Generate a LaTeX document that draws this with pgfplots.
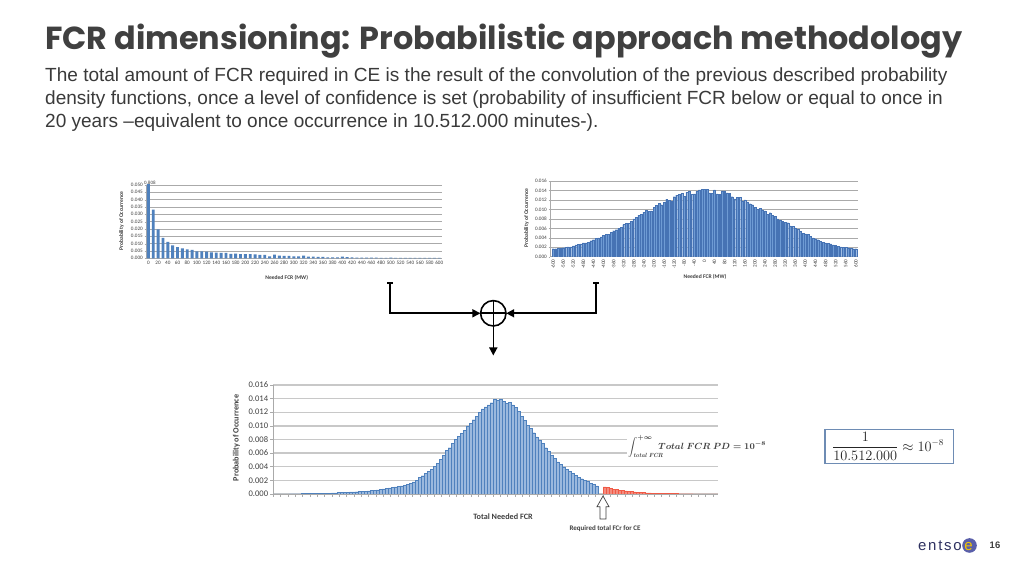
\documentclass[border=0pt]{standalone}
\usepackage[no-math]{fontspec}
\setmainfont{Liberation Sans}
\newfontfamily\poppins{Poppins}
\newfontfamily\carlito{Carlito}
\usepackage{amsmath,amssymb}
\usepackage{pgfplots}
\usepackage{pgfplotstable}
\pgfplotsset{compat=1.18}
\usetikzlibrary{arrows.meta}
\definecolor{titlegray}{RGB}{64,64,64}
\definecolor{bodygray}{RGB}{58,58,58}
\definecolor{chtext}{RGB}{64,64,64}
\definecolor{gridgray}{RGB}{170,170,170}
\definecolor{gridlight}{RGB}{200,200,200}
\definecolor{barblue}{RGB}{79,129,189}
\definecolor{barlight}{RGB}{110,155,212}
\definecolor{barpale}{RGB}{155,185,222}
\definecolor{bardark}{RGB}{70,115,180}
\definecolor{barred}{RGB}{240,90,70}
\definecolor{boxblue}{RGB}{110,140,180}
\definecolor{navy}{RGB}{46,49,96}
\definecolor{logoblue}{RGB}{90,95,170}
\definecolor{logoyellow}{RGB}{242,197,0}
\newcommand{\integralformula}{$\displaystyle\int_{\mathit{total\,FCR}}^{+\infty}\mkern-12mu Total\ FCR\ PD = 10^{-8}$}
\newcommand{\fracformula}{$\dfrac{1}{10.512.000}\approx 10^{-8}$}

\pgfplotstableread{
x y
0 0.808
10 0.0332
20 0.0197
30 0.0140
40 0.0112
50 0.0088
60 0.0077
70 0.0068
80 0.0060
90 0.0058
100 0.0047
110 0.0047
120 0.0045
130 0.0041
140 0.0039
150 0.0037
160 0.0037
170 0.0030
180 0.0032
190 0.0029
200 0.0028
210 0.0028
220 0.0026
230 0.0024
240 0.0023
250 0.0013
260 0.0025
270 0.0019
280 0.0016
290 0.0016
300 0.0013
310 0.0013
320 0.0018
330 0.0012
340 0.0011
350 0.0010
360 0.0009
370 0.0007
380 0.0006
390 0.0007
400 0.0012
410 0.0008
420 0.0006
430 0.0005
440 0.0005
450 0.0004
460 0.0004
470 0.0004
480 0.0003
490 0.0003
500 0.0005
510 0.0003
520 0.0003
530 0.0003
540 0.0002
550 0.0003
560 0.0002
570 0.0002
580 0.0002
590 0.0002
600 0.0002
}\tablefirst

\pgfplotstableread{
x y
-600 0.0017
-590 0.0017
-580 0.0018
-570 0.0018
-560 0.0019
-550 0.0020
-540 0.0021
-530 0.0021
-520 0.0023
-510 0.0025
-500 0.0026
-490 0.0027
-480 0.0029
-470 0.0029
-460 0.0031
-450 0.0034
-440 0.0036
-430 0.0039
-420 0.0040
-410 0.0042
-400 0.0045
-390 0.0047
-380 0.0047
-370 0.0052
-360 0.0055
-350 0.0057
-340 0.0060
-330 0.0062
-320 0.0068
-310 0.0071
-300 0.0071
-290 0.0075
-280 0.0080
-270 0.0083
-260 0.0088
-250 0.0090
-240 0.0094
-230 0.0098
-220 0.0096
-210 0.0097
-200 0.0105
-190 0.0108
-180 0.0113
-170 0.0110
-160 0.0115
-150 0.0121
-140 0.0119
-130 0.0117
-120 0.0127
-110 0.0130
-100 0.0132
-90 0.0134
-80 0.0128
-70 0.0136
-60 0.0138
-50 0.0132
-40 0.0133
-30 0.0138
-20 0.0141
-10 0.0142
0 0.0143
10 0.0143
20 0.0135
30 0.0134
40 0.0141
50 0.0133
60 0.0132
70 0.0139
80 0.0139
90 0.0135
100 0.0134
110 0.0127
120 0.0122
130 0.0126
140 0.0125
150 0.0118
160 0.0120
170 0.0116
180 0.0112
190 0.0110
200 0.0104
210 0.0100
220 0.0102
230 0.0099
240 0.0097
250 0.0090
260 0.0093
270 0.0088
280 0.0085
290 0.0080
300 0.0077
310 0.0075
320 0.0073
330 0.0072
340 0.0065
350 0.0064
360 0.0061
370 0.0058
380 0.0054
390 0.0050
400 0.0048
410 0.0047
420 0.0043
430 0.0040
440 0.0038
450 0.0036
460 0.0033
470 0.0031
480 0.0029
490 0.0028
500 0.0027
510 0.0025
520 0.0024
530 0.0022
540 0.0021
550 0.0020
560 0.0020
570 0.0019
580 0.0018
590 0.0017
600 0.0017
}\tablesecond

\pgfplotstableread{
x y
2 0.00002
5 0.00002
8 0.00002
11 0.00003
14 0.00003
17 0.00003
20 0.00004
23 0.00004
26 0.00005
29 0.00005
32 0.00006
35 0.00006
38 0.00007
41 0.00008
44 0.00009
47 0.00010
50 0.00011
53 0.00012
56 0.00013
59 0.00014
62 0.00016
65 0.00018
68 0.00020
71 0.00022
74 0.00025
77 0.00027
80 0.00030
83 0.00032
86 0.00034
89 0.00036
92 0.00040
95 0.00043
98 0.00047
101 0.00051
104 0.00056
107 0.00062
110 0.00068
113 0.00075
116 0.00082
119 0.00090
122 0.00099
125 0.00105
128 0.00112
131 0.00118
134 0.00125
137 0.00138
140 0.00155
143 0.00178
146 0.00205
149 0.00240
152 0.00268
155 0.00300
158 0.00330
161 0.00365
164 0.00405
167 0.00450
170 0.00510
173 0.00570
176 0.00640
179 0.00680
182 0.00740
185 0.00800
188 0.00845
191 0.00890
194 0.00930
197 0.00990
200 0.01040
203 0.01090
206 0.01140
209 0.01200
212 0.01250
215 0.01280
218 0.01310
221 0.01340
224 0.01390
227 0.01380
230 0.01395
233 0.01360
236 0.01330
239 0.01345
242 0.01310
245 0.01270
248 0.01210
251 0.01140
254 0.01080
257 0.01010
260 0.00960
263 0.00900
266 0.00840
269 0.00790
272 0.00740
275 0.00680
278 0.00630
281 0.00570
284 0.00520
287 0.00470
290 0.00435
293 0.00400
296 0.00360
299 0.00330
302 0.00300
305 0.00270
308 0.00245
311 0.00225
314 0.00205
317 0.00185
320 0.00160
323 0.00140
326 0.00120
}\tabletotalblue

\pgfplotstableread{
x y
329 0.00105
332 0.00095
335 0.00080
338 0.00070
341 0.00065
344 0.00058
347 0.00050
350 0.00045
353 0.00040
356 0.00035
359 0.00032
362 0.00028
365 0.00024
368 0.00021
371 0.00018
374 0.00016
377 0.00014
380 0.00012
383 0.00011
386 0.00010
389 0.00009
392 0.00008
395 0.00007
398 0.00006
401 0.00006
404 0.00005
407 0.00005
410 0.00004
413 0.00004
416 0.00004
419 0.00003
422 0.00003
425 0.00003
428 0.00003
431 0.00002
434 0.00002
437 0.00002
440 0.00002
443 0.00002
}\tabletotalred

\pgfplotsset{
  smallchart/.style={
    scale only axis, anchor=south west, clip mode=individual,
    ybar, ymin=0,
    axis lines*=left, axis line style={-, draw=gridgray},
    ymajorgrids, grid style={draw=gridgray, line width=0.4bp},
    tick align=outside, major tick length=1.5bp,
    xtick style={draw=none}, ytick style={draw=gridgray},
    scaled y ticks=false,
    /pgf/number format/assume math mode=true,
    tick label style={font=\carlito\fontsize{5.2}{6}\selectfont, text=chtext},
    xticklabel style={inner sep=1bp},
    yticklabel style={inner sep=1.5bp, /pgf/number format/.cd, fixed, fixed zerofill, precision=3},
  }
}

\begin{document}
\begin{tikzpicture}[x=1bp,y=1bp]
\path[fill=white] (0,0) rectangle (1024,576);

% title and text
\node[anchor=base west, inner sep=0] at (45,526) {\resizebox{917bp}{!}{\color{titlegray}\poppins\bfseries FCR dimensioning: Probabilistic approach methodology}};
\node[anchor=base west, inner sep=0, text=bodygray, font=\fontsize{19.1}{22}\selectfont] at (45,494) {The total amount of FCR required in CE is the result of the convolution of the previous described probability};
\node[anchor=base west, inner sep=0, text=bodygray, font=\fontsize{19.1}{22}\selectfont] at (45,471) {density functions, once a level of confidence is set (probability of insufficient FCR below or equal to once in};
\node[anchor=base west, inner sep=0, text=bodygray, font=\fontsize{19.1}{22}\selectfont] at (45,448) {20 years \textendash equivalent to once occurrence in 10.512.000 minutes-).};

% top-left chart
\begin{axis}[smallchart,
  at={(146bp,317.7bp)}, width=295.7bp, height=73.3bp,
  xmin=-5, xmax=605, ymax=0.05, bar width=6,
  xtick={0,20,...,600},
  ytick={0,0.005,0.010,0.015,0.020,0.025,0.030,0.035,0.040,0.045,0.050},
]
\addplot[fill=barblue, draw=none] table[x=x,y=y] {\tablefirst};
\node[anchor=south, inner sep=0.5bp, font=\carlito\fontsize{5}{6}\selectfont, text=chtext] at (axis cs:3,0.05) {0.808};
\end{axis}
\node[font=\carlito\bfseries\fontsize{5.6}{6}\selectfont, text=chtext] at (286.7,298) {Needed FCR (MW)};
\node[rotate=90, font=\carlito\bfseries\fontsize{5.6}{6}\selectfont, text=chtext] at (121.5,355) {Probability of Occurrence};

% top-right chart
\begin{axis}[smallchart,
  at={(550bp,319.3bp)}, width=308.3bp, height=75.7bp,
  xmin=-612, xmax=610, ymax=0.016, bar width=7.5,
  xtick={-600,-560,...,600},
  ytick={0,0.002,0.004,0.006,0.008,0.010,0.012,0.014,0.016},
  xticklabel style={rotate=90, anchor=east},
]
\addplot[fill=barlight, draw=bardark, line width=0.2bp] table[x=x,y=y] {\tablesecond};
\end{axis}
\node[font=\carlito\bfseries\fontsize{5.6}{6}\selectfont, text=chtext] at (705,299.3) {Needed FCR (MW)};
\node[rotate=90, font=\carlito\bfseries\fontsize{5.6}{6}\selectfont, text=chtext] at (526.5,358) {Probability of Occurrence};

% connector diagram
\draw[line width=1.6bp] (387,293) -- (393,293);
\draw[line width=1.6bp] (593,293) -- (599,293);
\draw[line width=1.6bp, -{Triangle[length=8bp,width=8bp]}] (390,293) -- (390,262.7) -- (480.4,262.7);
\draw[line width=1.6bp, -{Triangle[length=8bp,width=8bp]}] (596,293) -- (596,262.7) -- (506.2,262.7);
\draw[line width=1.6bp] (493.3,262.7) circle (12.7);
\draw[line width=1.6bp] (480.6,262.7) -- (506,262.7);
\draw[line width=1.6bp] (493.3,275.4) -- (493.3,250);
\draw[line width=1.6bp, -{Triangle[length=8bp,width=8bp]}] (493.3,250) -- (493.3,220.5);

% bottom chart
\begin{axis}[
  scale only axis, anchor=south west, at={(273.3bp,82bp)},
  width=444.7bp, height=109bp,
  xmin=0, xmax=445, ymin=0, ymax=0.016,
  ybar, bar width=3,
  axis lines*=left, axis line style={-, draw=gridgray, line width=0.8bp},
  ymajorgrids, grid style={draw=gridlight, line width=1.3bp},
  tick align=outside, major tick length=3bp,
  xtick distance=7.33, xticklabels={},
  xtick style={draw=gridgray, line width=0.6bp},
  ytick style={draw=gridgray, line width=0.6bp},
  ytick={0,0.002,0.004,0.006,0.008,0.010,0.012,0.014,0.016},
  scaled y ticks=false,
  /pgf/number format/assume math mode=true,
  yticklabel style={font=\carlito\fontsize{8.6}{10}\selectfont, text=chtext, inner sep=2bp,
    /pgf/number format/.cd, fixed, fixed zerofill, precision=3},
]
\addplot[fill=barpale, draw=barblue, line width=0.3bp] table[x=x,y=y] {\tabletotalblue};
\addplot[fill=barred!70, draw=barred, line width=0.3bp] table[x=x,y=y] {\tabletotalred};
\end{axis}
\node[rotate=90, font=\carlito\bfseries\fontsize{8.2}{9}\selectfont, text=chtext] at (236.5,138) {Probability of Occurrence};
\node[font=\carlito\bfseries\fontsize{8.2}{9}\selectfont, text=chtext] at (503,59.3) {Total Needed FCR};

% integral annotation
\node[anchor=west, fill=white, inner sep=1bp, text=titlegray, font=\fontsize{9}{10}\selectfont\boldmath] at (627,129.5) {\integralformula};

% hollow arrow
\draw[line width=0.7bp, draw=chtext, fill=white] (603,80) -- (609,69.3) -- (606,69.3) -- (606,57) -- (600,57) -- (600,69.3) -- (597,69.3) -- cycle;
\node[font=\carlito\bfseries\fontsize{7}{8}\selectfont, text=chtext] at (605,47) {Required total FCr for CE};

% formula box
\draw[draw=boxblue, line width=1.3bp] (825,112.7) rectangle (953.3,146.7);
\node[text=black!85, font=\fontsize{13.5}{15}\selectfont] at (888,129.5) {\fracformula};

% logo and page number
\fill[logoblue] (969.5,30.5) circle (7.3);
\node[anchor=base east, inner sep=0, text=navy, font=\fontsize{15}{16}\selectfont\addfontfeatures{LetterSpace=12}] at (962,25.5) {entso};
\node[anchor=base, inner sep=0, text=logoyellow, font=\fontsize{15}{16}\selectfont] at (968.5,25.5) {e};
\node[anchor=base, inner sep=0, text=titlegray, font=\bfseries\fontsize{9.5}{10}\selectfont] at (995,27.5) {16};
\end{tikzpicture}
\end{document}
